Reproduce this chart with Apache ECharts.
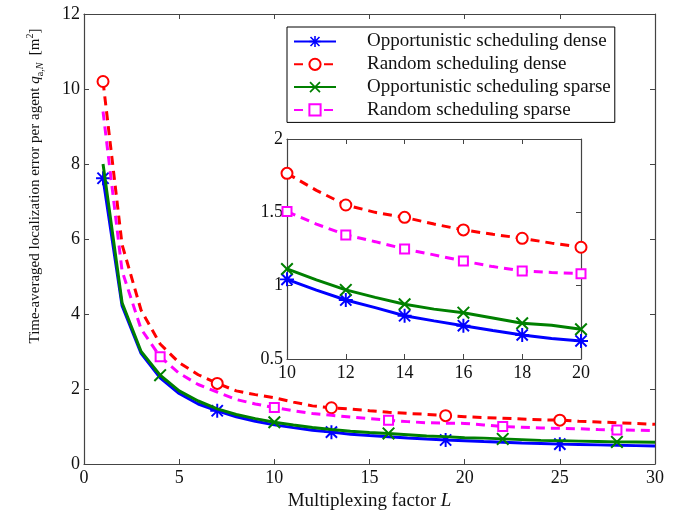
<!DOCTYPE html>
<html>
<head>
<meta charset="utf-8">
<script src="https://cdn.jsdelivr.net/npm/echarts@6/dist/echarts.min.js"></script>
<style>
html,body{margin:0;padding:0;background:#fff;}
#chart{width:683px;height:519px;}
</style>
</head>
<body>
<div id="chart"></div>
<script>
// ---- data ----
var L = [1,2,3,4,5,6,7,8,9,10,11,12,13,14,15,16,17,18,19,20,21,22,23,24,25,26,27,28,29,30];
var oppDense   = [7.62,4.22,2.95,2.30,1.88,1.60,1.42,1.26,1.14,1.043,0.97,0.902,0.85,0.795,0.76,0.727,0.695,0.664,0.64,0.623,0.60,0.58,0.56,0.545,0.53,0.52,0.51,0.50,0.49,0.48];
var randDense  = [10.2,5.85,4.10,3.20,2.70,2.38,2.15,1.95,1.85,1.766,1.65,1.55,1.50,1.466,1.42,1.38,1.35,1.323,1.29,1.262,1.24,1.22,1.20,1.18,1.17,1.14,1.12,1.10,1.08,1.06];
var oppSparse  = [8.00,4.30,3.00,2.37,1.95,1.68,1.47,1.32,1.21,1.114,1.04,0.971,0.92,0.873,0.84,0.816,0.78,0.744,0.73,0.703,0.69,0.67,0.65,0.63,0.62,0.61,0.60,0.59,0.585,0.58];
var randSparse = [9.40,5.15,3.60,2.86,2.42,2.12,1.92,1.72,1.60,1.505,1.42,1.346,1.30,1.25,1.21,1.168,1.13,1.10,1.09,1.082,1.04,1.00,0.98,0.96,0.95,0.94,0.92,0.91,0.90,0.89];
var names = ['Opportunistic scheduling dense','Random scheduling dense','Opportunistic scheduling sparse','Random scheduling sparse'];
var mainMarkersA = [1,7,13,19,25];
var mainMarkersB = [4,10,16,22,28];
var insetMarkers = [10,12,14,16,18,20];
var xTicksMain = [0,5,10,15,20,25,30];
var yTicksMain = [0,2,4,6,8,10,12];
var xTicksInset = [10,12,14,16,18,20];
var yTicksInset = [0.5,1,1.5,2];

// ---- styles ----
var FONT = 'Liberation Serif';
var ASTER = 'path://M0 8.6H20V11.4H0Z M8.6 0H11.4V20H8.6Z M1 3L3 1L19 17L17 19Z M17 1L19 3L3 19L1 17Z';
var XMARK = 'path://M0 2.2L2.2 0L20 17.8L17.8 20Z M17.8 0L20 2.2L2.2 20L0 17.8Z';
var styles = [
  {color:'#0000ff', type:'solid', symbol:ASTER, size:14, border:0},
  {color:'#ff0000', type:[9,6], symbol:'emptyCircle', size:11, border:2.2},
  {color:'#008000', type:'solid', symbol:XMARK, size:13, border:0},
  {color:'#ff00ff', type:[9,6], symbol:'emptyRect', size:9, border:2.2}
];
var values = [oppDense, randDense, oppSparse, randSparse];
var markerSets = [mainMarkersA, mainMarkersA, mainMarkersB, mainMarkersB];

function buildData(vals, markers, lo, hi){
  var out = [];
  for (var i=0;i<L.length;i++){
    if (L[i] < lo || L[i] > hi) continue;
    var item = {value:[L[i], vals[i]]};
    if (markers.indexOf(L[i]) < 0) item.symbol = 'none';
    out.push(item);
  }
  return out;
}

var series = [];
for (var s=0;s<4;s++){
  var st = styles[s];
  var base = {
    name: names[s], type:'line', symbol: st.symbol, symbolSize: st.size,
    lineStyle:{color:st.color, width:3, type:st.type},
    itemStyle:{color: st.color, borderColor:st.color, borderWidth:st.border},
    emphasis:{disabled:true}, animation:false, z: 2+s
  };
  series.push(Object.assign({}, base, {xAxisIndex:0, yAxisIndex:0, data: buildData(values[s], markerSets[s], 1, 30)}));
  series.push(Object.assign({}, base, {xAxisIndex:2, yAxisIndex:2, data: buildData(values[s], insetMarkers, 10, 20)}));
}

var AXC = '#444';
var LBL = {fontFamily:FONT, fontSize:18, color:'#111'};
function ax(opts){
  return Object.assign({
    type:'value', splitLine:{show:false},
    axisLine:{show:true, onZero:false, lineStyle:{color:AXC, width:1.2}},
    axisTick:{show:true, inside:true, length:5, lineStyle:{color:AXC, width:1}},
    axisLabel:Object.assign({show:true, margin:5}, LBL)
  }, opts);
}
function noLabel(o){ o.axisLabel = {show:false}; return o; }

var option = {
  backgroundColor:'#fff',
  animation:false,
  grid:[
    {left:84, right:28, top:14, bottom:55},
    {left:287, right:102, top:139, bottom:160}
  ],
  xAxis:[
    ax({gridIndex:0, min:xTicksMain[0], max:xTicksMain[xTicksMain.length-1], interval:5, position:'bottom',
        name:'{n|Multiplexing factor }{i|L}', nameLocation:'middle', nameGap:26,
        nameTextStyle:{rich:{n:{fontFamily:FONT, fontSize:19, color:'#111'}, i:{fontFamily:FONT, fontSize:19, fontStyle:'italic', color:'#111'}}}}),
    noLabel(ax({gridIndex:0, min:0, max:30, interval:5, position:'top'})),
    ax({gridIndex:1, min:xTicksInset[0], max:xTicksInset[xTicksInset.length-1], interval:2, position:'bottom'}),
    noLabel(ax({gridIndex:1, min:10, max:20, interval:2, position:'top'}))
  ],
  yAxis:[
    ax({gridIndex:0, min:yTicksMain[0], max:yTicksMain[yTicksMain.length-1], interval:2, position:'left', axisLabel:Object.assign({margin:4}, LBL)}),
    noLabel(ax({gridIndex:0, min:0, max:12, interval:2, position:'right'})),
    ax({gridIndex:1, min:yTicksInset[0], max:yTicksInset[yTicksInset.length-1], interval:0.5, position:'left', axisLabel:Object.assign({margin:4}, LBL)}),
    noLabel(ax({gridIndex:1, min:0.5, max:2, interval:0.5, position:'right'}))
  ],
  legend:{
    data:names, orient:'vertical', left:287, top:27,
    padding:[5,4,3,6], itemWidth:42, itemHeight:14, itemGap:3.8,
    borderColor:'#000', borderWidth:1, backgroundColor:'#fff',
    textStyle:{fontFamily:FONT, fontSize:19, color:'#111', lineHeight:19, padding:[0,0,0,26], width:242}
  },
  graphic:[{
    type:'text', x:35, y:186, rotation:Math.PI/2,
    style:{
      text:'{n|Time-averaged localization error per agent }{i|q}{s|a,}{si|N}{n|  [m}{p|2}{n|]}',
      textAlign:'center', textVerticalAlign:'middle',
      rich:{
        n:{fontFamily:FONT, fontSize:15, fill:'#111', lineHeight:20},
        i:{fontFamily:FONT, fontSize:15, fontStyle:'italic', fill:'#111', lineHeight:20},
        s:{fontFamily:FONT, fontSize:10, fill:'#111', lineHeight:20, verticalAlign:'bottom'},
        si:{fontFamily:FONT, fontSize:10, fontStyle:'italic', fill:'#111', lineHeight:20, verticalAlign:'bottom'},
        p:{fontFamily:FONT, fontSize:10, fill:'#111', lineHeight:20, verticalAlign:'top'}
      }
    }
  }],
  series: series
};

var chart = echarts.init(document.getElementById('chart'), null, {renderer:'canvas'});
chart.setOption(option);
</script>
</body>
</html>
